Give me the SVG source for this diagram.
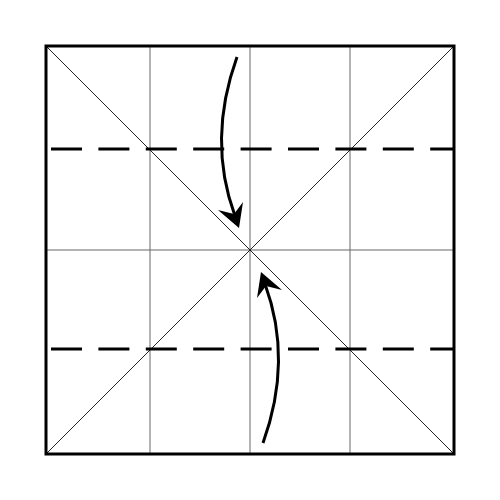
<svg xmlns="http://www.w3.org/2000/svg" width="500" height="500" viewBox="0 0 500 500">
<style>
.grid{stroke:#666;stroke-width:1;fill:none}
.diag{stroke:#222;stroke-width:1;fill:none}
.dash{stroke:#000;stroke-width:3;fill:none;stroke-dasharray:31 16.4}
.arrow{stroke:#000;stroke-width:3;fill:none}
.head{fill:#000;stroke:none}
</style>
<rect width="500" height="500" fill="#fff"/>
<g id="grid">
<line class="grid" x1="150" y1="46" x2="150" y2="454"/>
<line class="grid" x1="250" y1="46" x2="250" y2="454"/>
<line class="grid" x1="350" y1="46" x2="350" y2="454"/>
<line class="grid" x1="46" y1="250" x2="454" y2="250"/>
<line class="diag" x1="46" y1="46" x2="454" y2="454"/>
<line class="diag" x1="454" y1="46" x2="46" y2="454"/>
</g>
<g id="folds">
<line class="dash" x1="51" y1="149" x2="454" y2="149"/>
<line class="dash" x1="51" y1="349" x2="454" y2="349"/>
</g>
<rect id="square" x="46" y="46" width="408" height="408" fill="none" stroke="#000" stroke-width="3"/>
<g id="connectors">
<path class="arrow" d="M237,57 Q207,140 235,216"/>
<path class="head" d="M239,228 L218,210 L234,214 L243,202 Z"/>
<path class="arrow" d="M263,443 Q293,360 265,284"/>
<path class="head" d="M261,272 L282,290 L266,286 L257,298 Z"/>
</g>
</svg>
